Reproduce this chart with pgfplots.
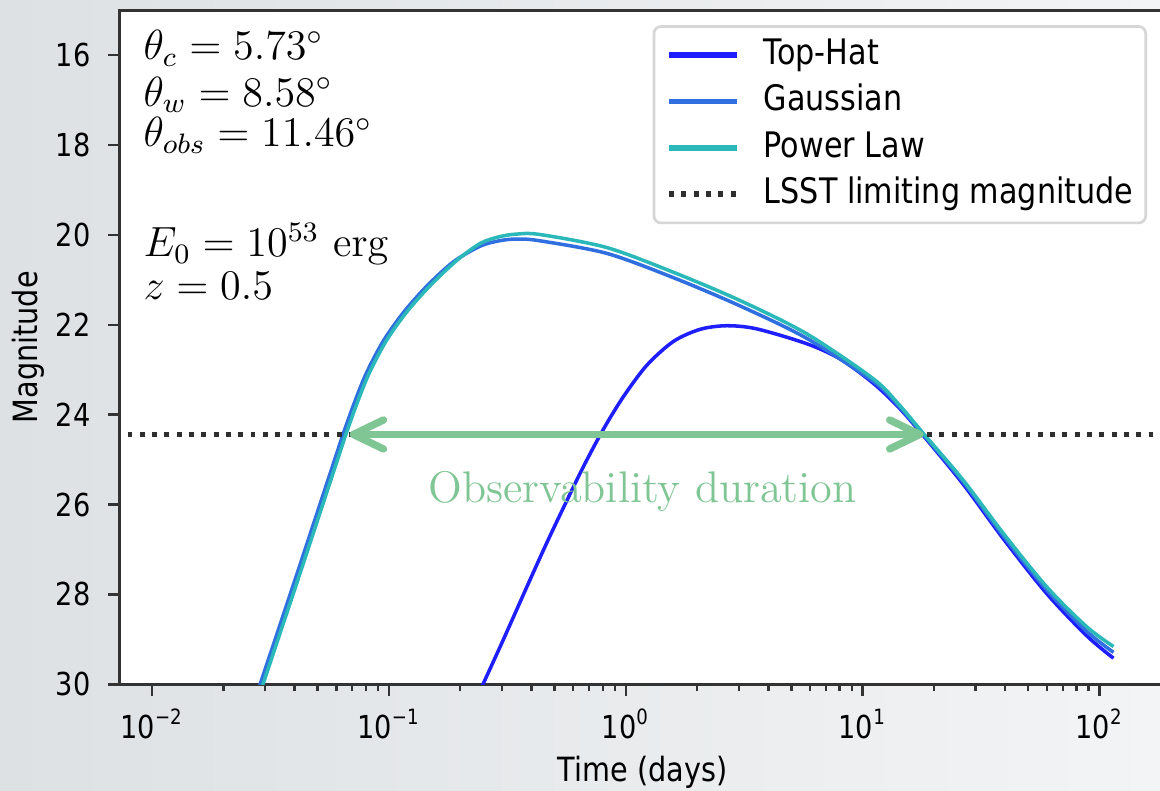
\documentclass[border=0pt]{standalone}
\usepackage[no-math]{fontspec}
\usepackage{pgfplots}
\pgfplotsset{compat=1.18}
\usetikzlibrary{arrows.meta}
\newfontfamily\dv{DejaVu Sans}[FakeStretch=0.86]
\definecolor{bgl}{HTML}{DDE1E4}
\definecolor{bgr}{HTML}{F3F4F5}
\definecolor{axgray}{HTML}{333333}
\definecolor{leggray}{HTML}{D6D6D6}
\definecolor{tophat}{HTML}{1E1EFF}
\definecolor{gauss}{HTML}{2F6FE0}
\definecolor{plaw}{HTML}{2BB8B8}
\definecolor{obsgreen}{HTML}{80C694}
\begin{document}
\begin{tikzpicture}
\shade[left color=bgl, right color=bgr] (-1.2,-1.067) rectangle (10.4,6.843);
\begin{axis}[
  at={(0,0)}, anchor=south west,
  scale only axis, width=10.45cm, height=6.74cm,
  xmode=log, xmin=0.00733, xmax=189,
  ymin=15, ymax=30, y dir=reverse,
  ytick={16,18,...,30},
  xtick={0.01,0.1,1,10,100},
  xticklabels={10\textsuperscript{−2},10\textsuperscript{−1},10\textsuperscript{0},10\textsuperscript{1},10\textsuperscript{2}},
  axis background/.style={fill=white},
  axis line style={draw=axgray, line width=0.85pt},
  tick align=outside, tick pos=left,
  major tick length=0.12cm, minor tick length=0.07cm,
  every tick/.style={axgray, line width=0.7pt},
  tick label style={font=\dv\fontsize{9}{10}\selectfont},
  /pgf/number format/assume math mode=true,
  yticklabel style={xshift=-0.05cm},
  xticklabel style={anchor=base, yshift=-0.42cm},
  label style={font=\dv\fontsize{9.5}{11}\selectfont},
  xlabel={Time (days)}, ylabel={Magnitude},
  xlabel style={at={(axis description cs:0.5,0)}, anchor=base, yshift=-0.967cm},
  ylabel style={at={(axis description cs:-0.0788,0.5)}, anchor=base},
  legend style={at={(axis description cs:0.9828,0.978)}, anchor=north east,
    draw=leggray, line width=0.75pt, rounded corners=2pt, fill=white,
    font=\dv\fontsize{10}{12}\selectfont,
    inner xsep=3.5pt, inner ysep=3.5pt, row sep=3.9pt, column sep=6.8pt,
    nodes={inner sep=0pt, text height=7.3pt, text depth=2pt}},
  legend cell align=left,
  legend image code/.code={\draw[#1, line width=1.6pt] (0cm,0cm) -- (0.68cm,0cm);},
]
\addplot[tophat, line width=1pt, smooth] coordinates {
(0.2399,30.20) (0.2547,29.90) (0.3041,29.01) (0.3819,27.84) (0.4634,26.86)
(0.5458,26.07) (0.6622,25.16) (0.8035,24.33) (0.9772,23.60) (1.2274,22.90)
(1.589,22.37) (2.061,22.10) (2.667,22.02) (3.573,22.09) (5.808,22.42)
(8.035,22.76) (11.09,23.30) (14.16,23.83) (18.07,24.47) (26.61,25.55)
(39.26,26.76) (59.84,27.98) (88.31,28.92) (114.6,29.42)};
\addlegendentry{Top-Hat}
\addplot[gauss, line width=1pt, smooth] coordinates {
(0.02812,30.13) (0.02904,29.90) (0.04015,27.68) (0.05925,24.98) (0.06424,24.42)
(0.07194,23.70) (0.08062,23.06) (0.09475,22.36) (0.1151,21.73) (0.1445,21.14)
(0.1871,20.60) (0.2427,20.25) (0.2924,20.13) (0.3467,20.09) (0.4345,20.13)
(0.8318,20.41) (1.589,20.95) (3.041,21.58) (5.808,22.30) (11.09,23.26)
(14.16,23.80) (18.07,24.45) (26.61,25.50) (39.26,26.70) (59.84,27.90)
(88.31,28.82) (114.6,29.29)};
\addlegendentry{Gaussian}
\addplot[plaw, line width=1pt, smooth] coordinates {
(0.02891,30.13) (0.02985,29.90) (0.04127,27.68) (0.06091,24.98) (0.06604,24.42)
(0.07396,23.70) (0.08288,23.06) (0.09740,22.36) (0.1183,21.73) (0.1486,21.14)
(0.1923,20.58) (0.2427,20.19) (0.2924,20.04) (0.3467,19.98) (0.4345,19.99)
(0.8318,20.28) (1.589,20.83) (3.041,21.46) (5.808,22.20) (11.09,23.20)
(14.16,23.76) (18.07,24.42) (26.61,25.46) (39.26,26.64) (59.84,27.83)
(88.31,28.72) (114.6,29.16)};
\addlegendentry{Power Law}
\addplot[black!82, line width=1.3pt, dash pattern=on 1.4pt off 2.1pt] coordinates {(0.007,24.44) (200,24.44)};
\addlegendentry{LSST limiting magnitude}
\draw[obsgreen, line width=2.1pt, {Straight Barb[length=3mm,width=2.9mm,round]}-{Straight Barb[length=3mm,width=2.9mm,round]}]
  (axis cs:0.0684,24.44) -- (axis cs:18.05,24.44);
\node[anchor=base, text=obsgreen, font=\fontsize{12.6}{15}\selectfont] at (axis cs:1.178,25.95) {Observability duration};
\node[anchor=base west, inner sep=0pt, font=\fontsize{12}{14}\selectfont] at (axis description cs:0.022,0.9263) {$\theta_c = 5.73^\circ$};
\node[anchor=base west, inner sep=0pt, font=\fontsize{12}{14}\selectfont] at (axis description cs:0.022,0.8580) {$\theta_w = 8.58^\circ$};
\node[anchor=base west, inner sep=0pt, font=\fontsize{12}{14}\selectfont] at (axis description cs:0.022,0.7972) {$\theta_{obs} = 11.46^\circ$};
\node[anchor=base west, inner sep=0pt, font=\fontsize{12}{14}\selectfont] at (axis description cs:0.022,0.6340) {$E_0 = 10^{53}\ \mathrm{erg}$};
\node[anchor=base west, inner sep=0pt, font=\fontsize{12}{14}\selectfont] at (axis description cs:0.022,0.5716) {$z = 0.5$};
\end{axis}
\pgfresetboundingbox
\useasboundingbox (-1.2,-1.067) rectangle (10.4,6.843);
\end{tikzpicture}
\end{document}
